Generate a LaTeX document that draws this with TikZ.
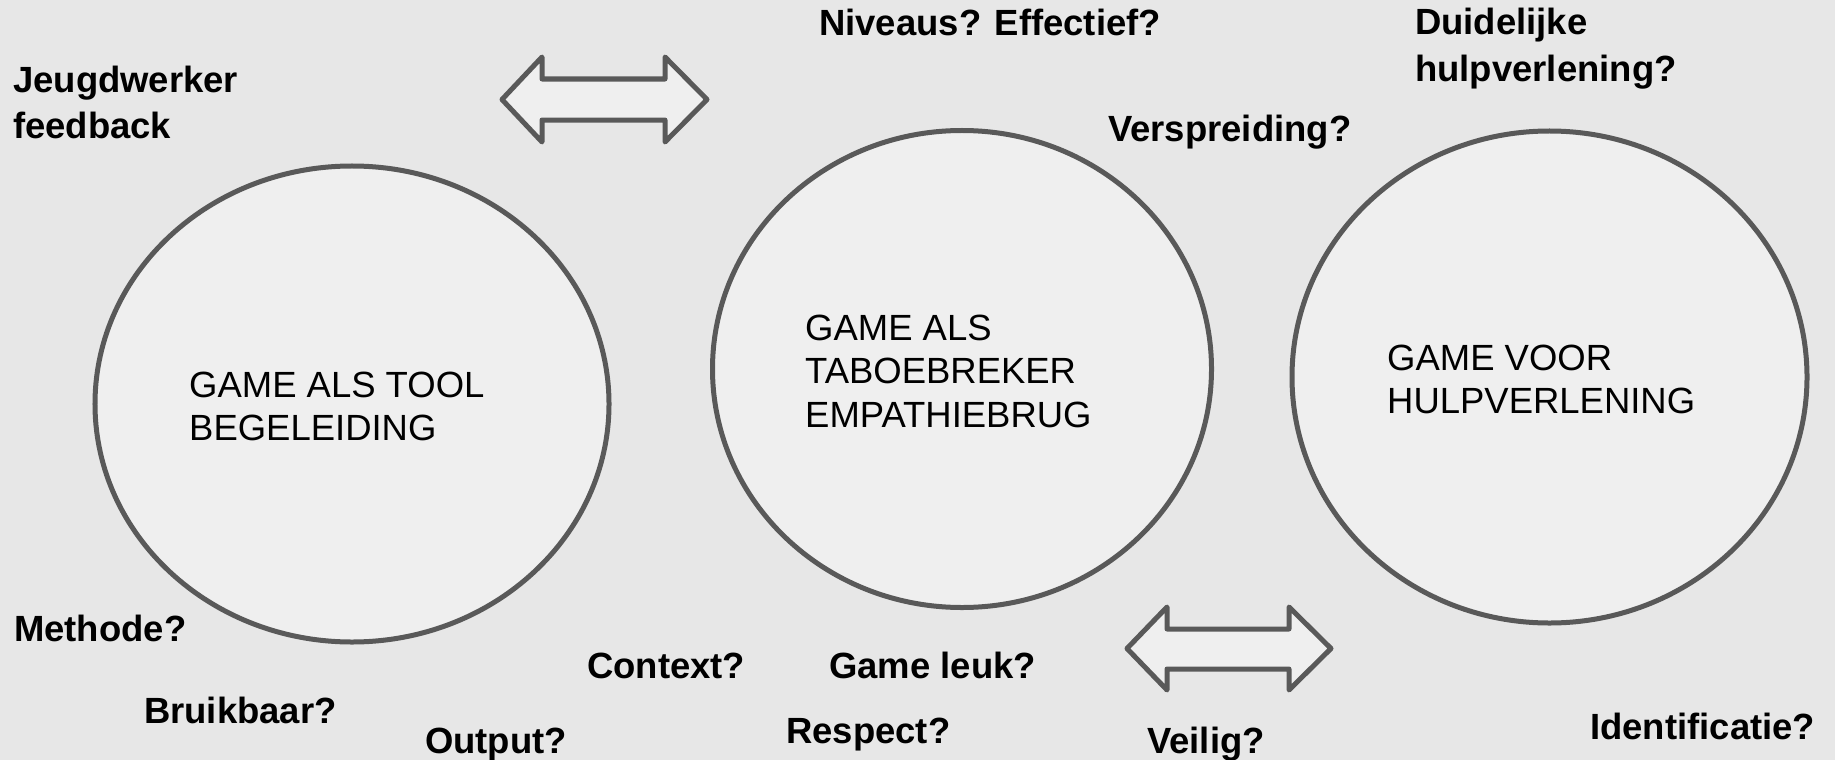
\documentclass[tikz,border=0pt]{standalone}
\usepackage{fontspec}
\setmainfont{Liberation Sans}
\usetikzlibrary{shapes.geometric}
\definecolor{bg}{HTML}{E7E7E7}
\definecolor{shapefill}{HTML}{EFEFEF}
\definecolor{edge}{HTML}{595959}
\begin{document}
\begin{tikzpicture}[x=1bp,y=-1bp,
  bubble/.style={ellipse, draw=edge, fill=shapefill, line width=5bp, inner sep=0pt, outer sep=0pt},
  intext/.style={anchor=base west, inner sep=0pt, font=\fontsize{36.6}{43.5}\selectfont, text=black},
  q/.style={anchor=base west, inner sep=0pt, font=\bfseries\fontsize{36.6}{45}\selectfont, text=black},
  blockarrow/.style={draw=edge, fill=shapefill, line width=5bp, line join=round}]
\fill[bg] (0,0) rectangle (1835,760);
\useasboundingbox (0,0) rectangle (1835,760);

% circles
\node[bubble, minimum width=514bp, minimum height=476bp] (c1) at (352,404) {};
\node[bubble, minimum width=499bp, minimum height=477bp] (c2) at (962,369) {};
\node[bubble, minimum width=515bp, minimum height=492bp] (c3) at (1549.5,377) {};

% circle texts
\node[intext] (t1a) at (189,397) {GAME ALS TOOL};
\node[intext] (t1b) at (189,440) {BEGELEIDING};
\node[intext] (t2a) at (805,340) {GAME ALS};
\node[intext] (t2b) at (805,383.5) {TABOEBREKER};
\node[intext] (t2c) at (805,427) {EMPATHIEBRUG};
\node[intext] (t3a) at (1387,370) {GAME VOOR};
\node[intext] (t3b) at (1387,413) {HULPVERLENING};

% block arrows
\coordinate (a1l) at (502,99.5);
\coordinate (a1r) at (707,99.5);
\draw[blockarrow] (a1l) -- ++(40,-42.5) -- ++(0,22) -- ++(123,0) -- ++(0,-22) -- (a1r)
  -- ++(-42,42.5) -- ++(0,-22) -- ++(-123,0) -- ++(0,22) -- cycle;
\coordinate (a2l) at (1127,648.5);
\coordinate (a2r) at (1331,648.5);
\draw[blockarrow] (a2l) -- ++(40,-41.5) -- ++(0,22) -- ++(122,0) -- ++(0,-22) -- (a2r)
  -- ++(-42,41.5) -- ++(0,-21) -- ++(-122,0) -- ++(0,21) -- cycle;

% question labels
\node[q] (jw1) at (13,92) {Jeugdwerker};
\node[q] (jw2) at (13,138) {feedback};
\node[q] (niv) at (819,36) {Niveaus? Effectief?};
\node[q] (dui1) at (1415,35) {Duidelijke};
\node[q] (dui2) at (1415,82) {hulpverlening?};
\node[q] (ver) at (1108,141.5) {Verspreiding?};
\node[q] (met) at (14,641) {Methode?};
\node[q] (bru) at (144,723) {Bruikbaar?};
\node[q] (out) at (425,753) {Output?};
\node[q] (con) at (587,678) {Context?};
\node[q] (gl) at (829,678) {Game leuk?};
\node[q] (res) at (786,743) {Respect?};
\node[q] (vei) at (1147,753) {Veilig?};
\node[q] (ide) at (1590,739) {Identificatie?};
\end{tikzpicture}
\end{document}
